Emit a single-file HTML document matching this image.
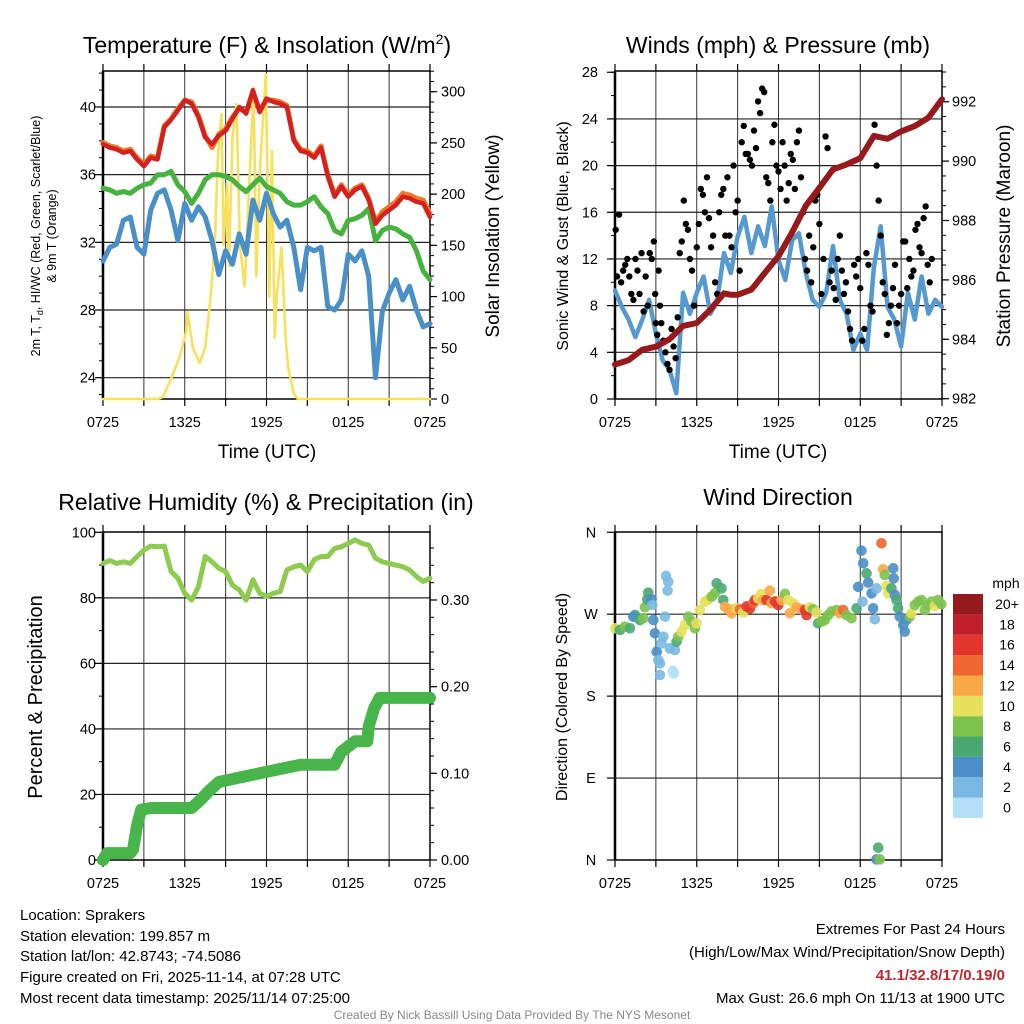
<!DOCTYPE html>
<html><head><meta charset="utf-8"><style>
html,body{margin:0;padding:0;background:#fff;}
svg{display:block;font-family:"Liberation Sans",Arial,sans-serif;}
</style></head><body>
<svg id="chart" width="1024" height="1024" viewBox="0 0 1024 1024" xmlns="http://www.w3.org/2000/svg">
<rect width="1024" height="1024" fill="#fff"/>
<g id="layer"></g>
<text x="267" y="53" font-size="23" text-anchor="middle">Temperature (F) &amp; Insolation (W/m<tspan font-size="14" dy="-9">2</tspan><tspan dy="9">)</tspan></text>
<text x="778" y="53" font-size="23" text-anchor="middle">Winds (mph) &amp; Pressure (mb)</text>
<text x="266" y="510" font-size="23" text-anchor="middle">Relative Humidity (%) &amp; Precipitation (in)</text>
<text x="778" y="505" font-size="23" text-anchor="middle">Wind Direction</text>
<text x="267" y="458" font-size="19" text-anchor="middle">Time (UTC)</text>
<text x="778" y="458" font-size="19" text-anchor="middle">Time (UTC)</text>
<text font-size="12.5" text-anchor="middle" transform="translate(40,236) rotate(-90)">2m T, T<tspan font-size="9" dy="3">d</tspan><tspan dy="-3">, HI/WC (Red, Green, Scarlet/Blue)</tspan></text>
<text font-size="12.5" text-anchor="middle" transform="translate(56,236) rotate(-90)">&amp; 9m T (Orange)</text>
<text font-size="19" text-anchor="middle" transform="translate(499,236) rotate(-90)">Solar Insolation (Yellow)</text>
<text font-size="16" text-anchor="middle" transform="translate(568,236) rotate(-90)">Sonic Wind &amp; Gust (Blue, Black)</text>
<text font-size="19" text-anchor="middle" transform="translate(1010,236) rotate(-90)">Station Pressure (Maroon)</text>
<text font-size="20" text-anchor="middle" transform="translate(42,697) rotate(-90)">Percent &amp; Precipitation</text>
<text font-size="16" text-anchor="middle" transform="translate(567,697) rotate(-90)">Direction (Colored By Speed)</text>
<g font-size="15">
<text x="20" y="920">Location: Sprakers</text>
<text x="20" y="941">Station elevation: 199.857 m</text>
<text x="20" y="961">Station lat/lon: 42.8743; -74.5086</text>
<text x="20" y="982">Figure created on Fri, 2025-11-14, at 07:28 UTC</text>
<text x="20" y="1003">Most recent data timestamp: 2025/11/14 07:25:00</text>
</g>
<g font-size="15" text-anchor="end">
<text x="1005" y="934">Extremes For Past 24 Hours</text>
<text x="1005" y="957">(High/Low/Max Wind/Precipitation/Snow Depth)</text>
<text x="1005" y="980" fill="#c0262d" font-weight="bold">41.1/32.8/17/0.19/0</text>
<text x="1005" y="1003">Max Gust: 26.6 mph On 11/13 at 1900 UTC</text>
</g>
<text x="512" y="1019" font-size="12" fill="#888" text-anchor="middle">Created By Nick Bassill Using Data Provided By The NYS Mesonet</text>
</svg>
<script>
const xTickLabels=["0725","1325","1925","0125","0725"];
const xTickHours=[0,6,12,18,24];
const halfHours=[0,0.5,1,1.5,2,2.5,3,3.5,4,4.5,5,5.5,6,6.5,7,7.5,8,8.5,9,9.5,10,10.5,11,11.5,12,12.5,13,13.5,14,14.5,15,15.5,16,16.5,17,17.5,18,18.5,19,19.5,20,20.5,21,21.5,22,22.5,23,23.5,24];
const tempRed=[37.8,37.6,37.5,37.3,37.4,36.9,36.5,37.0,36.9,38.8,39.25,39.8,40.4,40.2,39.4,38.2,37.8,38.3,38.6,39.3,40.0,39.6,41.0,39.7,40.5,40.3,40.2,40.0,38.0,37.4,37.3,37.0,37.6,35.9,34.7,35.3,34.7,35.1,35.3,34.5,33.1,33.6,33.9,34.2,34.7,34.6,34.4,34.3,33.5];
const temp9m=[37.9,37.7,37.6,37.4,37.5,37.0,36.6,37.1,37.0,38.9,39.3,39.9,40.4,40.3,39.5,38.3,37.6,38.4,38.7,39.4,39.9,39.7,40.9,39.8,40.4,40.4,40.3,40.1,38.1,37.5,37.4,37.1,37.7,36.0,34.8,35.4,34.8,35.2,35.4,34.6,33.2,33.8,34.1,34.4,34.9,34.8,34.6,34.5,33.7];
const tempGreen=[35.2,35.1,34.9,35.0,34.9,35.2,35.4,35.5,36.0,36.0,36.2,35.4,35.0,34.3,34.9,35.7,36.0,36.0,35.9,35.7,35.3,35.0,35.4,35.8,35.3,35.1,34.9,34.4,34.2,34.2,34.4,34.7,34.1,33.7,32.7,32.5,33.3,33.4,33.6,34.0,32.1,32.7,32.9,32.8,32.5,32.3,31.5,30.3,29.8];
const tempBlue=[30.9,31.7,31.9,33.3,33.5,31.7,31.3,33.9,34.9,35.1,33.9,32.1,34.3,33.3,34.1,33.5,32.1,30.1,31.5,30.7,32.5,31.3,34.5,33.3,34.9,33.7,32.9,33.3,31.7,29.2,31.7,31.5,31.7,28.2,28.0,28.6,31.3,30.9,31.5,30.0,24.0,27.9,29.0,29.8,28.6,29.4,28.0,27.0,27.2];
const solarHours=[0,4,4.4,5.0,5.6,6.1,6.2,6.6,7.1,7.5,7.9,8.2,8.45,8.7,8.85,9.1,9.25,9.5,9.8,10.05,10.4,10.7,11.05,11.25,11.5,11.95,12.2,12.4,12.6,12.75,13.1,13.4,13.6,14.0,14.3,24];
const solarWm2=[0,0,2,20,40,65,85,50,35,50,100,150,240,278,150,210,130,255,288,150,110,200,304,120,220,317,100,242,60,100,148,60,30,5,0,0];
const windSonic=[9.3,7.9,6.8,5.3,6.8,8.5,5.6,3.3,2.5,0.5,9.1,7.3,9.1,10.5,7.3,8.5,12.5,10.8,13.9,15.6,12.5,14.8,13.1,16.5,11.9,10.2,13.6,14.2,10.8,8.5,7.9,9.1,13.1,8.5,7.3,4.2,5.6,4.2,11.3,14.8,7.9,6.8,4.5,9.1,6.8,10.5,7.3,8.5,7.9];
const pressHours=[0,1,2,3,4,5,6,7,8,8.5,9,10,11,12,13,14,15,16,17,18,19,20,21,22,23,24];
const pressMb=[983.15,983.3,983.65,983.75,984.0,984.45,984.55,985.0,985.55,985.5,985.5,985.67,986.24,986.8,987.6,988.5,989.1,989.72,989.89,990.1,990.85,990.75,991.0,991.18,991.46,992.08];
const gustHours=[0.05,0.15,0.3,0.45,0.6,0.75,0.9,1.05,1.2,1.35,1.5,1.65,1.8,1.95,2.1,2.25,2.4,2.55,2.7,2.85,2.95,3.0,3.1,3.2,3.3,3.4,3.55,3.7,3.85,4.0,4.15,4.3,4.45,4.6,4.75,4.9,5.05,5.2,5.35,5.5,5.65,5.8,6.0,6.15,6.3,6.45,6.6,6.75,6.9,7.05,7.2,7.35,7.5,7.65,7.8,7.95,8.1,8.25,8.4,8.55,8.7,8.85,9.0,9.15,9.3,9.45,9.6,9.75,9.9,10.05,10.2,10.35,10.5,10.65,10.8,10.95,11.1,11.25,11.4,11.55,11.7,11.85,12.0,12.15,12.3,12.45,12.6,12.75,12.9,13.05,13.2,13.35,13.5,13.65,13.8,13.95,14.1,14.25,14.4,14.55,14.7,14.85,15.0,15.15,15.3,15.45,15.6,15.75,15.9,16.05,16.2,16.35,16.5,16.65,16.8,16.95,17.1,17.25,17.4,17.55,17.7,17.85,18.0,18.15,18.3,18.45,18.6,18.75,18.9,19.05,19.2,19.35,19.5,19.65,19.8,19.95,20.1,20.25,20.4,20.55,20.7,20.85,21.0,21.15,21.3,21.45,21.6,21.75,21.9,22.05,22.2,22.35,22.5,22.65,22.8,22.95,23.1,23.25,23.4,23.55,23.7,23.85,23.95];
const gustMph=[14.5,10.5,15.8,10,11,11.5,12,10.5,9,8.5,12,11,9,12.5,7.5,10.5,8,12.5,12,13.5,9,6.5,5.5,11,8,6.5,5,4,3,2.5,6,4.5,3.5,7,12.5,13.5,17,15,14.5,12,11,8,13,15,18,17.5,16,19,15.5,13,14,10,9,16,17.5,18,14,19,14,13,20,16,17,11,22,23.4,21,21,20.5,20,23,21.5,25.5,24.5,26.6,26.3,19,18.5,17,22,23.5,20,19.5,18,22,20,17,18.5,21,20.5,18,22,23,19,16,12,11,14,10,13,17,17.5,15,9,12,22.5,21.5,10,11,9.5,8.5,12,14,11,9,10,7.5,6,5,11.5,10.5,12,9.5,5,6,12.5,11.5,8,7.5,23.5,20,17,14,10,9,5.5,6.5,8,9.5,11.5,6.5,8,9,13.5,13.5,9.5,12,10.5,11,14.5,15,13,12.5,15.5,16.5,11.5,10,12];
const rhPct=[90.5,91.4,90.5,91,90.5,92.6,94.6,95.8,95.6,95.8,88,86,81.4,79.3,83.4,92.6,91,89,88,83.9,82.4,79.3,85.5,81.4,80.4,81.4,81.9,88.5,89.5,90,88,91.6,92.6,92.6,95.1,95.6,96.6,97.7,96.6,96.1,92.1,91,90.5,90,89.5,88.5,86.5,85,86];
const precipHours=[0,0.3,2,2.2,2.5,2.8,3.5,6.5,7.2,7.8,8.5,11.5,13,14.5,17,17.5,18.5,19.4,19.5,19.9,20.3,24];
const precipIn=[0,0.008,0.008,0.012,0.04,0.058,0.06,0.06,0.07,0.08,0.09,0.1,0.105,0.11,0.11,0.125,0.137,0.137,0.154,0.175,0.187,0.187];
const dirHours=[0,0.37,0.73,1.1,1.47,1.34,1.83,2.08,2.2,2.44,2.37,2.69,2.74,2.81,2.93,3.06,3.18,3.3,3.3,3.42,3.55,3.67,3.74,3.91,3.86,4.03,4.23,4.33,4.4,4.52,4.65,4.89,5.13,5.38,5.62,5.87,5.99,6.23,6.6,6.85,7.09,7.33,7.46,7.82,7.95,8.07,8.31,8.56,8.68,8.92,9.17,9.41,9.66,9.9,10.15,10.27,10.51,10.76,10.88,11.12,11.37,11.49,11.74,11.98,12.22,12.47,12.71,12.84,13.08,13.33,13.69,13.94,14.06,14.3,14.55,14.79,14.91,15.16,15.4,15.65,15.89,16.26,16.5,16.75,16.99,17.36,17.73,17.85,18.09,18.22,18.46,18.17,18.58,18.83,18.95,19.07,19.19,19.56,19.68,19.8,19.93,20.05,20.29,20.42,20.46,20.54,20.66,20.78,20.9,21.15,21.27,21.39,21.64,21.76,22.0,22.25,22.49,22.74,22.98,23.23,23.47,23.72,23.96,19.32,19.19,19.44];
const dirDeg=[254.5,252.7,256.3,254.5,269,267.3,263.6,265.5,277.6,293.7,286.3,286.3,280.1,263.6,249,228.8,219.7,216,203.2,238,245.3,267.3,312,305.7,295.9,232.5,208,205,230.7,239.8,245.3,250.8,258.1,267.3,262,254.5,260,274.6,283.8,286,289.3,292.9,303.9,298.4,285.6,278,275.4,271,275.4,276.3,275.4,272,278.5,276.3,282,285.6,287.4,292.2,285.6,285.6,295.9,282,284,280.1,285.6,292.2,285.6,271,282,277.6,275.4,274.6,269,277.6,275.4,272,260,262,263.6,269,273,274.6,271,274.6,269,265.5,276.5,300,339.8,325.9,314.9,283.8,304.7,292.9,276.5,264.4,298.4,347.9,319.3,313.1,301,292.9,298.4,320.4,309.4,291.1,285.6,276.5,267.3,258.1,250.8,263.6,267.3,271,280.1,283.8,285.6,274.6,280.1,283.8,279,285.6,281,13.5,0.7,0.7];
const dirSpeed=[10,7,8,6,6,4,7,8,8,6,6,4,2,4,4,4,2,2,2,2,2,2,2,2,2,2,1,1,2,6,8,10,10,8,8,8,10,10,10,10,8,8,6,6,6,12,12,12,12,11,14,10,16,16,14,16,11,10,12,16,12,12,16,17,12,8,10,12,11,12,12,16,16,10,8,10,6,8,8,8,8,8,12,14,8,8,6,4,4,4,6,2,4,4,4,2,2,14,12,8,10,10,6,4,4,4,6,6,4,4,4,4,8,10,8,8,8,8,8,8,10,8,8,6,4,8];
const speedColors=["#b3e0f7","#7ab8e4","#4a8fc8","#4aa872","#7cc34e","#e6e05a","#f8a947","#f06530","#e2362d","#bf1e2a","#951a1e"];
const speedLabels=["0","2","4","6","8","10","12","14","16","18","20+"];

const NS="http://www.w3.org/2000/svg";
const layer=document.getElementById('layer');
function mk(tag,attrs,parent){const e=document.createElementNS(NS,tag);for(const k in attrs)e.setAttribute(k,attrs[k]);(parent||layer).appendChild(e);return e;}
function grp(name){const g=mk('g',{});return g;}

const X1=h=>103+h*13.625, X2=h=>615+h*13.625;
const yTemp=t=>377.7-(t-24)*16.92;
const ySolar=w=>399-w*1.0243;
const yMph=m=>399-m*11.67;
const yPress=p=>398.7-(p-982)*29.7;
const yPct=p=>860-p*3.277;
const yIn=i=>860-i*866.7;
const yDeg=d=>860-d*0.9104;

function frame(name,x0,y0,x1,y1,xf,hgrid,leftTicks,leftMinor,rightTicks,rightMinor){
  const g=grp(name);
  for(let k=1;k<8;k++){const x=xf(k*3);mk('line',{x1:x,y1:y0,x2:x,y2:y1,stroke:'#333','stroke-width':1},g);}
  hgrid.forEach(y=>{mk('line',{x1:x0,y1:y,x2:x1,y2:y,stroke:'#222','stroke-width':1.2},g);});
  for(let k=0;k<=8;k++){const x=xf(k*3);mk('line',{x1:x,y1:y1,x2:x,y2:y1+7,stroke:'#000','stroke-width':1.2},g);mk('line',{x1:x,y1:y0,x2:x,y2:y0-7,stroke:'#000','stroke-width':1.2},g);}
  leftTicks.forEach(y=>mk('line',{x1:x0-8,y1:y,x2:x0,y2:y,stroke:'#000','stroke-width':1.2},g));
  leftMinor.forEach(y=>mk('line',{x1:x0-4,y1:y,x2:x0,y2:y,stroke:'#000','stroke-width':1},g));
  rightTicks.forEach(y=>mk('line',{x1:x1,y1:y,x2:x1+7,y2:y,stroke:'#000','stroke-width':1.2},g));
  rightMinor.forEach(y=>mk('line',{x1:x1,y1:y,x2:x1+4,y2:y,stroke:'#000','stroke-width':1},g));
  mk('rect',{x:x0,y:y0,width:x1-x0,height:y1-y0,fill:'none',stroke:'#000','stroke-width':1.5},g);
  mk('line',{x1:x0,y1:y0,x2:x0,y2:y1,stroke:'#000','stroke-width':2.5},g);
  xTickHours.forEach((h,i)=>{const t=mk('text',{x:xf(h),y:y1+28,'font-size':14.5,'text-anchor':'middle'},g);t.textContent=xTickLabels[i];});
  return g;
}
function rng(a,b,s){const r=[];for(let v=a;v<=b+1e-9;v+=s)r.push(+v.toFixed(4));return r;}
function labels(g,vals,fy,x,anchor,fmt){vals.forEach(v=>{const t=mk('text',{x:x,y:fy(v)+5,'font-size':14.5,'text-anchor':anchor},g);t.textContent=fmt?fmt(v):v;});}
function path(g,xs,ys,stroke,w,name){let d='';const n=Math.min(xs.length,ys.length);for(let i=0;i<n;i++){d+=(i?'L':'M')+xs[i].toFixed(1)+','+ys[i].toFixed(1);}const p=mk('path',{d:d,fill:'none',stroke:stroke,'stroke-width':w,'stroke-linejoin':'round','stroke-linecap':'round'},g);return p;}

const g1=frame('temp-panel',103,71,430,399,X1,[40,36,32,28,24].map(yTemp),[40,36,32,28,24].map(yTemp),rng(23,42,1).map(yTemp),rng(0,300,50).map(ySolar),rng(0,320,10).map(ySolar));
labels(g1,[40,36,32,28,24],yTemp,96,'end');
labels(g1,[0,50,100,150,200,250,300],ySolar,441,'start');
path(g1,solarHours.map(X1),solarWm2.map(ySolar),'#f7e15a',2.6,'solar-insolation-line');
path(g1,halfHours.map(X1),tempBlue.map(yTemp),'#4a90c8',5,'windchill-line');
path(g1,halfHours.map(X1),tempGreen.map(yTemp),'#46b33f',5,'dewpoint-line');
path(g1,halfHours.map(X1),temp9m.map(yTemp),'#f0782a',5,'temp-9m-line');
path(g1,halfHours.map(X1),tempRed.map(yTemp),'#d4201f',4.5,'temp-2m-line');

const g2=frame('wind-panel',615,71,942,399,X2,[4,8,12,16,20,24].map(yMph),rng(0,28,4).map(yMph),rng(0,28,2).map(yMph),rng(982,992,2).map(yPress),rng(982,993,0.5).map(yPress));
labels(g2,rng(0,28,4),yMph,598,'end');
labels(g2,[982,984,986,988,990,992],yPress,952,'start');
path(g2,halfHours.map(X2),windSonic.map(yMph),'#5599d0',4.5,'sonic-wind-line');
const nG=Math.min(gustHours.length,gustMph.length);
for(let i=0;i<nG;i++){const c=mk('circle',{cx:X2(gustHours[i]),cy:yMph(gustMph[i]),r:3.2,fill:'#000'},g2);

}
path(g2,pressHours.map(X2),pressMb.map(yPress),'#98191c',6,'pressure-line');

const g3=frame('rh-panel',103,532,430,860,X1,[20,40,60,80].map(yPct),rng(0,100,20).map(yPct),rng(0,100,10).map(yPct),rng(0,0.3,0.1).map(yIn),rng(0,0.36,0.02).map(yIn));
labels(g3,rng(0,100,20),yPct,96,'end');
labels(g3,[0,0.1,0.2,0.3],yIn,441,'start',v=>v.toFixed(2));
path(g3,halfHours.map(X1),rhPct.map(yPct),'#8dcb4f',5,'relative-humidity-line');
path(g3,precipHours.map(X1),precipIn.map(yIn),'#48b54a',12,'precipitation-line');

const dirTicks=[0,90,180,270,360], dirLabels=['N','E','S','W','N'];
const g4=frame('direction-panel',615,532,942,860,X2,[90,180,270].map(yDeg),dirTicks.map(yDeg),[],[],[]);
dirTicks.forEach((d,i)=>{const t=mk('text',{x:591,y:yDeg(d)+5,'font-size':14.5,'text-anchor':'middle'},g4);t.textContent=dirLabels[i];});
const nD=Math.min(dirHours.length,dirDeg.length);
for(let i=0;i<nD;i++){const sp=dirSpeed[i]!==undefined?dirSpeed[i]:6;const b=Math.min(10,Math.floor(sp/2));const c=mk('circle',{cx:X2(dirHours[i]),cy:yDeg(dirDeg[i]),r:5.3,fill:speedColors[b],'fill-opacity':0.9},g4);

}

const cb=grp('speed-colorbar');
const cbt=mk('text',{x:1006,y:588,'font-size':14,'text-anchor':'middle'},cb);cbt.textContent='mph';
speedColors.forEach((c,i)=>{const y=797.6-i*20.36;const r=mk('rect',{x:953,y:y,width:30,height:20.4,fill:c},cb);


const t=mk('text',{x:1007,y:y+15,'font-size':14,'text-anchor':'middle'},cb);t.textContent=speedLabels[i];});
</script>
</body></html>
